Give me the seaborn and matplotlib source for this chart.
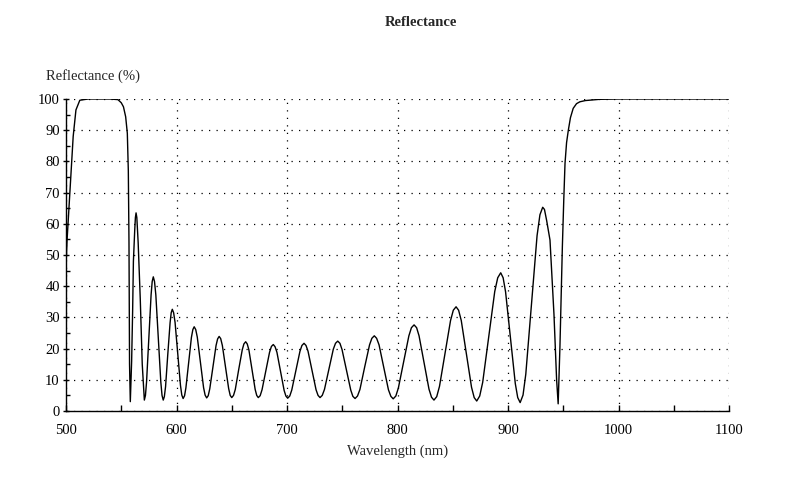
import pandas as pd
import numpy as np
import seaborn as sns
import matplotlib.pyplot as plt
from matplotlib.ticker import MultipleLocator

# values (nm, %)
wavelength = [500, 501, 503.5, 506.5, 509, 512.5, 520, 540, 547, 550, 552, 554, 555.5, 556.4, 557, 557.5,
              558.2, 559.4, 560.3, 561, 562.2, 562.8, 563.4, 564.1, 565.3, 567.2, 569, 570.9,
              571.9, 572.9, 575, 577, 578.0, 579, 580.1, 581.3, 583.5, 585.8, 586.9, 588,
              589.0, 590.1, 592.1, 594.2, 595.2, 596.2, 597.4, 598.7, 601.1, 603.6, 604.8, 606,
              607.3, 608.5, 611, 613.5, 614.8, 616, 617.4, 618.8, 621.7, 624.5, 625.9, 627.3,
              628.7, 630.1, 633, 635.8, 637.2, 638.6, 640.0, 641.5, 644.3, 647.2, 648.6, 650,
              651.6, 653.2, 656.3, 659.5, 661.0, 662.6, 664.0, 665.5, 668.3, 671.2, 672.6, 674,
              675.7, 677.4, 680.8, 684.2, 685.9, 687.6, 689.2, 690.9, 694.1, 697.4, 699.0, 700.6,
              702.5, 704.3, 708, 711.7, 713.5, 715.4, 717.2, 719, 722.7, 726.3, 728.1, 729.9,
              731.9, 733.9, 737.9, 741.9, 743.9, 745.9, 747.9, 749.8, 753.8, 757.7, 759.6, 761.6,
              763.8, 766, 770.3, 774.7, 776.8, 779, 781.1, 783.3, 787.6, 791.8, 794.0, 796.1,
              798.5, 800.8, 805.6, 810.3, 812.6, 815, 817.3, 819.5, 824, 828.5, 830.8, 833,
              835.5, 838, 843, 848, 850.5, 853, 855.3, 857.7, 862.4, 867, 869.4, 871.7,
              874.4, 877.1, 882.6, 888, 890.7, 893.4, 895.6, 897.8, 902.2, 906.6, 908.8, 911,
              913.6, 916.1, 921.2, 926.3, 928.9, 931.4, 933, 935, 938, 941.6, 944, 945.4,
              947, 948, 949.2, 950.5, 951.6, 953, 954.6, 956.5, 959, 962, 965, 970, 983, 1000, 1100]
reflectance = [47, 55, 70, 88, 96.5, 99.6, 100, 100, 99.8, 98.8, 97.5, 94.3, 89, 77, 54, 15,
               3, 16, 32, 48, 58, 62, 63.5, 62, 54, 36, 15, 3.5,
               5.0, 9.3, 23.3, 37.2, 41.5, 43, 41.5, 37.2, 23.3, 9.3, 5.0, 3.5,
               4.6, 7.8, 18.1, 28.3, 31.5, 32.6, 31.5, 28.4, 18.3, 8.2, 5.1, 4,
               4.9, 7.4, 15.5, 23.6, 26.1, 27, 26.1, 23.7, 15.6, 7.5, 5.1, 4.2,
               4.9, 7.1, 14.1, 21.0, 23.1, 23.9, 23.2, 21.0, 14.1, 7.2, 5.0, 4.3,
               5.0, 6.9, 13.3, 19.6, 21.5, 22.2, 21.5, 19.6, 13.3, 6.9, 5.0, 4.3,
               4.9, 6.8, 12.8, 18.8, 20.7, 21.3, 20.6, 18.8, 12.7, 6.6, 4.8, 4.1,
               4.8, 6.7, 12.9, 19.1, 21.0, 21.7, 21.0, 19.2, 13.0, 6.8, 5.0, 4.3,
               5.0, 6.9, 13.4, 19.8, 21.7, 22.4, 21.7, 19.7, 13.2, 6.7, 4.7, 4,
               4.8, 6.9, 14.1, 21.2, 23.3, 24.1, 23.3, 21.2, 14.0, 6.8, 4.7, 3.9,
               4.8, 7.4, 15.8, 24.1, 26.7, 27.6, 26.7, 24.1, 15.6, 7.0, 4.4, 3.5,
               4.6, 7.9, 18.5, 29.0, 32.3, 33.4, 32.3, 29.0, 18.3, 7.6, 4.3, 3.2,
               4.8, 9.2, 23.8, 38.3, 42.7, 44.3, 42.7, 38.2, 23.5, 8.8, 4.3, 2.7,
               5.1, 11.8, 34.0, 56.2, 62.9, 65.3, 64.6, 61, 54.8, 31, 10, 2.3,
               20.6, 35, 52.7, 68, 79.4, 86, 90, 94, 97, 98.5, 99.1, 99.5, 99.9, 100, 100]

df = pd.DataFrame({'Wavelength': wavelength, 'Reflectance': reflectance})

sns.set_style('ticks')
plt.rcParams['font.family'] = ['Liberation Serif', 'DejaVu Serif']

fig = plt.figure(figsize=(7.9, 5), dpi=100)
ax = fig.add_axes([66 / 790, 89 / 500, 663 / 790, 312 / 500])

sns.lineplot(data=df, x='Wavelength', y='Reflectance', color='black', linewidth=1, ax=ax)

ax.set_xlim(500, 1100)
ax.set_ylim(0, 100)
ax.xaxis.set_major_locator(MultipleLocator(100))
ax.xaxis.set_minor_locator(MultipleLocator(50))
ax.yaxis.set_major_locator(MultipleLocator(10))
ax.yaxis.set_minor_locator(MultipleLocator(5))
ax.grid(True, which='major', color='black', linestyle=(0, (1, 5)), linewidth=0.9)
ax.tick_params(which='both', colors='black', labelsize=10.5, width=1)
ax.tick_params(axis='x', which='both', direction='in', length=4, pad=9)
ax.tick_params(axis='y', which='major', direction='inout', length=5, pad=2)
ax.tick_params(axis='y', which='minor', direction='in', length=3)
for s in ['top', 'right']:
    ax.spines[s].set_visible(False)
for s in ['left', 'bottom']:
    ax.spines[s].set_color('black')
    ax.spines[s].set_linewidth(1)

ax.set_xlabel('Wavelength (nm)', fontsize=10.5, labelpad=6)
ax.set_ylabel('')
fig.text(46 / 790, 1 - 76 / 500, 'Reflectance (%)', fontsize=10.5, ha='left', va='center')
fig.text(421 / 790, 1 - 22 / 500, 'Reflectance', fontsize=10.5, fontweight='bold', ha='center', va='center')

fig.savefig('out.png', dpi=100)
